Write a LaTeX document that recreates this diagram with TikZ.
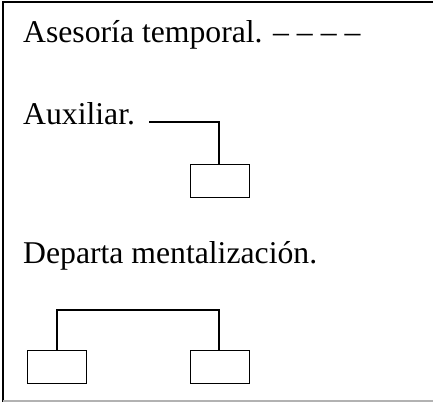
\documentclass[tikz,border=0pt]{standalone}
\usepackage{fontspec}
\setmainfont{Liberation Serif}
\begin{document}
\begin{tikzpicture}[x=1pt,y=-1pt,
  lbl/.style={anchor=base west,inner sep=0pt,font=\fontsize{31.7}{36}\selectfont},
  orgbox/.style={draw,line width=1.2pt,minimum width=59pt,minimum height=33pt,inner sep=0pt,anchor=north west},
  conn/.style={line width=1.2pt}]
\useasboundingbox (0,0) rectangle (433,402);
\draw[line width=1.5pt] (433,2) -- (3,2) -- (3,402);
\draw[line width=1.5pt,gray!60] (3,401) -- (433,401);
\node[lbl] (t1) at (23,42) {Asesoría temporal. – – – –};
\node[lbl] (t2) at (23,124) {Auxiliar.};
\node[lbl] (t3) at (23,263) {Departa mentalización.};
% Auxiliar symbol
\coordinate (a0) at (149,122);
\coordinate (a1) at (219,122);
\node[orgbox] (b1) at (190,164) {};
\draw[conn] (a0) -- (a1) -- (b1.north -| a1);
% Departamentalizacion symbol
\node[orgbox] (b2) at (27,350) {};
\node[orgbox] (b3) at (190,350) {};
\coordinate (d0) at (57,310);
\coordinate (d1) at (219,310);
\draw[conn] (b2.north -| d0) -- (d0) -- (d1) -- (b3.north -| d1);
\end{tikzpicture}
\end{document}
